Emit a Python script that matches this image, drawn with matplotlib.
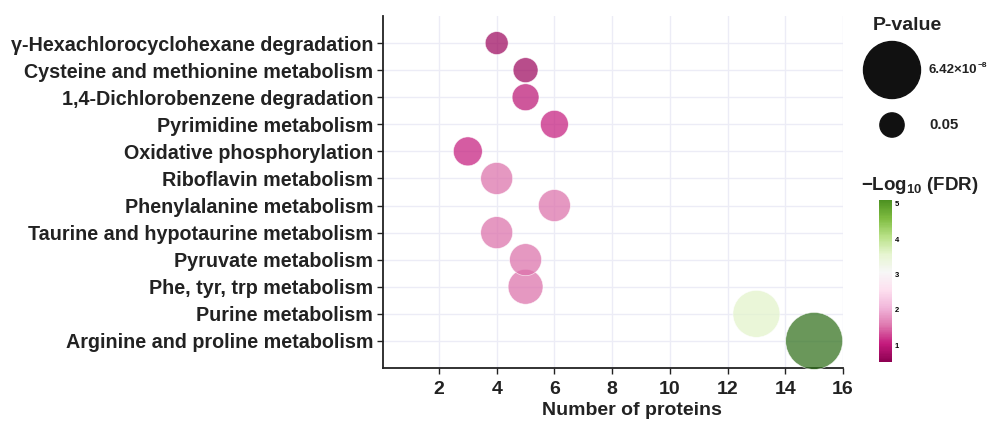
import matplotlib
matplotlib.use("Agg")
import matplotlib.pyplot as plt
import numpy as np
from matplotlib.colors import Normalize, LinearSegmentedColormap
from matplotlib.colorbar import ColorbarBase

plt.rcParams["font.family"] = ["Liberation Sans", "DejaVu Sans"]
plt.rcParams["font.weight"] = "bold"
plt.rcParams["mathtext.fontset"] = "custom"
plt.rcParams["mathtext.rm"] = "Liberation Sans:bold"
plt.rcParams["mathtext.bf"] = "Liberation Sans:bold"
plt.rcParams["mathtext.it"] = "Liberation Sans:bold"

# KEGG pathway enrichment (bottom to top)
pathways = [
    "Arginine and proline metabolism",
    "Purine metabolism",
    "Phe, tyr, trp metabolism",
    "Pyruvate metabolism",
    "Taurine and hypotaurine metabolism",
    "Phenylalanine metabolism",
    "Riboflavin metabolism",
    "Oxidative phosphorylation",
    "Pyrimidine metabolism",
    "1,4-Dichlorobenzene degradation",
    "Cysteine and methionine metabolism",
    "γ-Hexachlorocyclohexane degradation",
]
protein_counts = [15, 13, 5, 5, 4, 6, 4, 3, 6, 5, 5, 4]
p_values = [6.42e-8, 1.3e-5, 2.0e-3, 5.4e-3, 5.4e-3, 5.4e-3, 5.4e-3,
            1.4e-2, 1.9e-2, 2.5e-2, 4.2e-2, 6.8e-2]
neg_log10_fdr = [5.0, 3.3, 1.4, 1.4, 1.4, 1.4, 1.4, 1.0, 1.0, 0.9, 0.65, 0.65]

legend_p = [6.42e-8, 0.05]
legend_main = ["6.42×10", "0.05"]
legend_sup = ["−8", ""]
legend_fs = [9.5, 10.8]

x_ticks = [2, 4, 6, 8, 10, 12, 14, 16]
cbar_ticks = [1, 2, 3, 4, 5]
fdr_range = (0.52, 5.11)

SIZE_K = 234.0
TEXT = "#222222"


def bubble_size(p):
    return SIZE_K * -np.log10(np.asarray(p, dtype=float))


W, H = 998, 421
fig = plt.figure(figsize=(W / 100, H / 100), dpi=100)
ax = fig.add_axes([383 / W, 1 - 368 / H, (843 - 383) / W, (368 - 16) / H])

cmap = plt.get_cmap("PiYG")
norm = Normalize(*fdr_range)
y = np.arange(len(pathways))

ax.scatter(protein_counts, y, s=bubble_size(p_values), c=neg_log10_fdr,
           cmap=cmap, norm=norm, alpha=0.72, edgecolors="white",
           linewidths=0.5, zorder=3, clip_on=False)

ax.set_xlim(0.06, 16)
ax.set_ylim(-1, len(pathways))
ax.set_xticks(x_ticks)
ax.set_yticks(y)
ax.set_yticklabels(pathways, fontsize=14.2, fontweight="bold", color=TEXT)
ax.tick_params(axis="x", labelsize=14, colors=TEXT, length=4, width=1, pad=5)
ax.tick_params(axis="y", length=4, width=1, colors=TEXT, pad=3)
for lab in ax.get_xticklabels():
    lab.set_fontweight("bold")
ax.set_xlabel("Number of proteins", fontsize=14, fontweight="bold",
              color=TEXT)
ax.xaxis.set_label_coords(0.541, -0.097, transform=ax.transAxes)
ax.xaxis.label.set_va("top")
ax.grid(True, color="#ECECF6", linewidth=1, zorder=0)
ax.set_axisbelow(True)
for side in ("top", "right"):
    ax.spines[side].set_visible(False)
for side in ("left", "bottom"):
    ax.spines[side].set_linewidth(1.3)
    ax.spines[side].set_color(TEXT)

# Overlay in pixel coordinates for the legends
ov = fig.add_axes([0, 0, 1, 1], zorder=5)
ov.set_xlim(0, W)
ov.set_ylim(H, 0)
ov.axis("off")
ov.patch.set_alpha(0)

ov.text(907, 26, "P-value", ha="center", va="center", fontsize=14,
        fontweight="bold", color=TEXT)
ov.scatter([892, 892], [70, 125], s=bubble_size(legend_p), color="#111111",
           zorder=3)
for yy, main, sup, fs in zip([70, 125], legend_main, legend_sup, legend_fs):
    t = ov.text(929, yy, main, ha="left", va="center", fontsize=fs,
                fontweight="bold", color=TEXT)
    if sup:
        ov.annotate(sup, xy=(1, 1), xycoords=t, xytext=(0.3, -1),
                    textcoords="offset points", ha="left", va="center",
                    fontsize=6, fontweight="bold", color=TEXT)

ov.text(920, 186, r"$-Log_{10}$ (FDR)", ha="center", va="center",
        fontsize=13.5, fontweight="bold", color=TEXT)

cbar_cmap = LinearSegmentedColormap.from_list(
    "PiYG_short", cmap(np.linspace(0.0, 0.9, 256)))
cax = fig.add_axes([879 / W, 1 - 362 / H, 13 / W, 162 / H])
cb = ColorbarBase(cax, cmap=cbar_cmap, norm=norm, orientation="vertical")
cb.outline.set_visible(False)
cb.set_ticks(cbar_ticks)
cax.tick_params(labelsize=5.5, length=0, pad=2)
for lab in cax.get_yticklabels():
    lab.set_fontweight("bold")

fig.savefig("out.png", dpi=100)
